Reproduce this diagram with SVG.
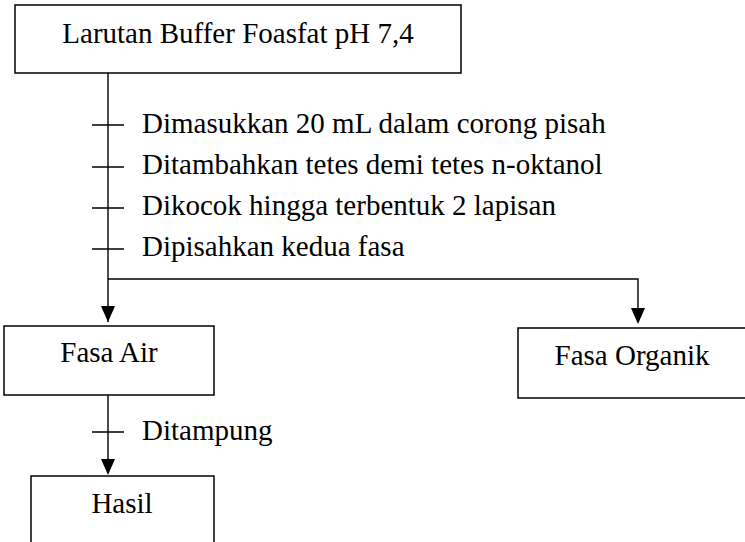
<svg xmlns="http://www.w3.org/2000/svg" width="745" height="542" viewBox="0 0 745 542" font-family="'Liberation Serif', 'Times New Roman', serif">
<style>
.box{fill:#fff;stroke:#000;stroke-width:1.5}
.ln{fill:none;stroke:#000;stroke-width:1.4}
text{font-family:'Liberation Serif','Times New Roman',serif;font-size:29px;fill:#000}
.c{text-anchor:middle}
</style>
<g id="connectors">
<path class="ln" d="M108,73 V279"/>
<path class="ln" d="M108,279 V322"/>
<path d="M101,306 L115,306 L108,322 Z" fill="#000"/>
<path class="ln" d="M108,279 H638 V310"/>
<path d="M631,308 L645,308 L638,324 Z" fill="#000"/>
<path class="ln" d="M108,395 V460"/>
<path d="M101,459 L115,459 L108,475 Z" fill="#000"/>
<path class="ln" d="M92,125 H124 M92,167 H124 M92,208 H124 M92,249 H124 M92,432 H124"/>
</g>
<g id="labels">
<text x="142" y="133">Dimasukkan 20 mL dalam corong pisah</text>
<text x="142" y="174">Ditambahkan tetes demi tetes n-oktanol</text>
<text x="142" y="215">Dikocok hingga terbentuk 2 lapisan</text>
<text x="142" y="256">Dipisahkan kedua fasa</text>
<text x="142" y="440">Ditampung</text>
</g>
<g id="node-buffer">
<rect class="box" x="15" y="5" width="446" height="68"/>
<text class="c" x="238" y="43">Larutan Buffer Foasfat pH 7,4</text>
</g>
<g id="node-fasa-air">
<rect class="box" x="4" y="326" width="210" height="69"/>
<text class="c" x="109" y="362">Fasa Air</text>
</g>
<g id="node-fasa-organik">
<rect class="box" x="518" y="328" width="230" height="70"/>
<text class="c" x="632" y="365">Fasa Organik</text>
</g>
<g id="node-hasil">
<rect class="box" x="31" y="476" width="183" height="80"/>
<text class="c" x="122" y="513">Hasil</text>
</g>
</svg>
